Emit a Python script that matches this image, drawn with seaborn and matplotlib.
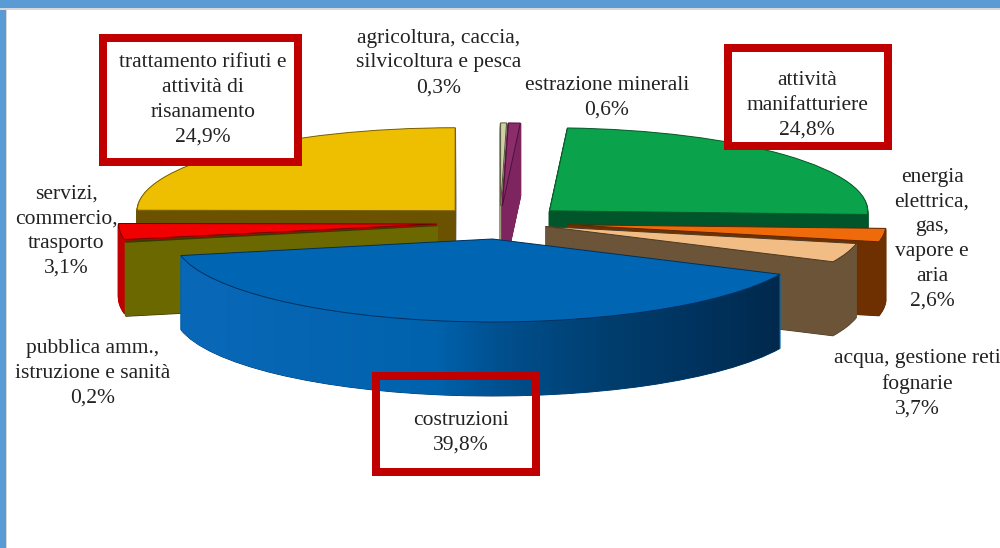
import numpy as np
import matplotlib
matplotlib.use("Agg")
import matplotlib.pyplot as plt
from matplotlib.colors import LinearSegmentedColormap
from matplotlib.patches import Rectangle
from matplotlib.path import Path
import seaborn as sns

# ---- data (clockwise from 12 o'clock)
sectors = ["agricoltura, caccia,\nsilvicoltura e pesca",
           "estrazione minerali",
           "attività\nmanifatturiere",
           "energia\nelettrica,\ngas,\nvapore e\naria",
           "acqua, gestione reti\nfognarie",
           "costruzioni",
           "pubblica amm.,\nistruzione e sanità",
           "servizi,\ncommercio,\ntrasporto",
           "trattamento rifiuti e\nattività di\nrisanamento"]
shares = [0.3, 0.6, 24.8, 2.6, 3.7, 39.8, 0.2, 3.1, 24.9]
pull_out = [0.2, 0.2, 0.21, 0.215, 0.15, 0.2, 0.2, 0.2, 0.2]
top_colors = ["#cfcfa8", "#8b2c6b", "#0aa24a", "#ee6a0a", "#f2bd85",
              "#0066b3", "#6b6800", "#f00000", "#eebf00"]
wall_colors = ["#9a9a78", "#7e2560", "#00552a", "#6e3000", "#6b5438",
               "#0066b3", "#6b6800", "#c00000", "#6b5200"]
edge_colors = ["#55553a", "#4a1238", "#0a5a2c", "#5a2800", "#4a3a26",
               "#00305c", "#3a3800", "#700000", "#7a6000"]
# back-to-front painting rank of each slice
paint_rank = [1, 2, 3, 6, 7, 8, 5, 4, 0]

# blue wall shading, left to right
blue_pos = [0.0, 0.42, 0.53, 0.70, 0.86, 1.0]
blue_cols = ["#0a68b8", "#0062ad", "#00508f", "#003f70", "#00335f", "#00294c"]

# ---- layout in pixels of the 1000x548 frame
W, H = 1000, 548
CX, CY, RX, RY = 500, 222.5, 318, 83
DEPTH = 74
BOX_W = 8
label_pos = [(439, 63), (607, 98), (807, 105), (932, 239), (917, 384),
             (461, 433), (93, 373), (66, 231), (203, 100)]
boxes = [((99, 34, 302, 166), True), ((724, 44, 892, 150), True),
         ((372, 372, 540, 476), False)]

sns.set_theme(style="white")
plt.rcParams["font.family"] = ["Liberation Serif", "DejaVu Sans"]
tops = sns.color_palette(top_colors)
walls = sns.color_palette(wall_colors)

fig = plt.figure(figsize=(W / 100, H / 100), dpi=100, facecolor="white")
ax = fig.add_axes([0, 0, 1, 1])

blue_masks = []
for layer in range(DEPTH, -1, -1):
    is_top = layer == 0
    wedges, _ = ax.pie(shares, explode=pull_out, startangle=90, counterclock=False,
                       center=(0, -layer / RY), radius=1,
                       colors=tops if is_top else walls,
                       wedgeprops=dict(linewidth=0))
    for i, w in enumerate(wedges):
        w.set_zorder(paint_rank[i] * 1000 + (DEPTH - layer))
        if is_top or layer == DEPTH:
            w.set_edgecolor(edge_colors[i])
            w.set_linewidth(0.7)
        else:
            w.set_edgecolor(walls[i])
            w.set_linewidth(1.2)
        if i == 5 and not is_top:
            blue_masks.append(w.get_path().transformed(w.get_patch_transform()))

# gradient on the wall of the large blue slice
cmap = LinearSegmentedColormap.from_list("wall", list(zip(blue_pos, blue_cols)))
im = ax.imshow(np.linspace(0, 1, 400)[None, :], cmap=cmap, aspect="auto",
               extent=(-1.0, 282 / RX, -4, 1), zorder=paint_rank[5] * 1000 + DEPTH - 1,
               interpolation="bilinear")
im.set_clip_path(Path.make_compound_path(*blue_masks), ax.transData)

ax.set_aspect("auto")
ax.set_xlim(-CX / RX, (W - CX) / RX)
ax.set_ylim((CY - H) / RY, CY / RY)
ax.axis("off")

def fx(px):
    return px / W

def fy(py):
    return 1 - py / H

# red highlight boxes
for (x0, y0, x1, y1), filled in boxes:
    ax.add_patch(Rectangle((fx(x0 + BOX_W / 2), fy(y1 - BOX_W / 2)),
                           (x1 - x0 - BOX_W) / W, (y1 - y0 - BOX_W) / H,
                           transform=fig.transFigure, zorder=20000,
                           facecolor="white" if filled else "none",
                           edgecolor="#c00000", linewidth=BOX_W * 0.72, clip_on=False))

# labels
for name, val, (px, py) in zip(sectors, shares, label_pos):
    pct = f"{val:.1f}%".replace(".", ",")
    fig.text(fx(px), fy(py), f"{name}\n{pct}", ha="center", va="center", fontsize=15.5,
             color="#222222", linespacing=1.41, zorder=30000)

# slide frame
fig.add_artist(Rectangle((0, fy(8)), 1, 8 / H, transform=fig.transFigure,
                         facecolor="#5b9bd5", edgecolor="none", zorder=40000))
fig.add_artist(Rectangle((0, 0), 5.5 / W, 1, transform=fig.transFigure,
                         facecolor="#5b9bd5", edgecolor="none", zorder=40000))
fig.add_artist(Rectangle((0, fy(9.5)), 1, 1.5 / H, transform=fig.transFigure,
                         facecolor="#d8d8d8", edgecolor="none", zorder=40000))
fig.add_artist(Rectangle((5.5 / W, 0), 1.5 / W, fy(9.5), transform=fig.transFigure,
                         facecolor="#d8d8d8", edgecolor="none", zorder=40000))

fig.savefig("out.png", dpi=100)
